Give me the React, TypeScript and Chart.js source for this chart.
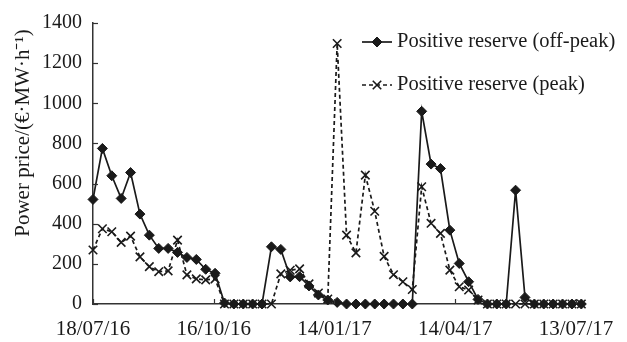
import React, { useEffect, useRef } from "react";
import { Chart, registerables } from "chart.js";

Chart.register(...registerables);

// Weekly observations starting 18/07/16 (x = days since start)
const dayStep = 7;
const tickDays = [0, 90, 180, 270, 360];
const tickLabels = ["18/07/16", "16/10/16", "14/01/17", "14/04/17", "13/07/17"];
const yTicks = [0, 200, 400, 600, 800, 1000, 1200, 1400];

const offPeakLabel = "Positive reserve (off-peak)";
const peakLabel = "Positive reserve (peak)";
const yTitle = "Power price/(€·MW·h⁻¹)";

const offPeak = [
  521, 775, 639, 526, 655, 448, 343, 277, 277, 257, 232, 222, 173, 153, 5,
  0, 0, 0, 0,
  285, 272, 135, 136, 90, 45, 20, 8,
  0, 0, 0, 0, 0, 0, 0, 0,
  960, 697, 675, 368, 202, 111, 23,
  0, 0, 0,
  567, 33,
  0, 0, 0, 0, 0, 0,
];

const peak = [
  269, 375, 360, 307, 338, 235, 186, 161, 165, 318, 145, 125, 120, 125,
  0, 0, 0, 0, 0, 0,
  150, 168, 175, 100, 55, 25,
  1298,
  343, 255, 642, 462, 237, 146, 111, 72,
  584, 402, 352, 169, 86, 70, 20,
  0, 0, 0, 0, 0, 0, 0, 0, 0, 0, 0,
];

const FONT = "'Liberation Serif', 'Times New Roman', serif";
const INK = "#1a1a1a";

const innerTicks = {
  id: "innerTicks",
  afterDatasetsDraw(chart: any) {
    const { ctx, chartArea, scales } = chart;
    const { left, bottom } = chartArea;
    ctx.save();
    ctx.strokeStyle = "#333";
    ctx.lineWidth = 1.2;
    scales.y.ticks.forEach((t: any) => {
      const py = Math.round(scales.y.getPixelForValue(t.value)) + 0.5;
      ctx.beginPath();
      ctx.moveTo(left, py);
      ctx.lineTo(left + 5, py);
      ctx.stroke();
    });
    scales.x.ticks.forEach((t: any) => {
      const px = Math.round(scales.x.getPixelForValue(t.value)) + 0.5;
      ctx.beginPath();
      ctx.moveTo(px, bottom);
      ctx.lineTo(px, bottom - 5);
      ctx.stroke();
    });
    ctx.restore();
  },
};

function drawMarker(ctx: CanvasRenderingContext2D, style: string, x: number, y: number, r: number) {
  ctx.beginPath();
  if (style === "rectRot") {
    ctx.moveTo(x, y - r);
    ctx.lineTo(x + r, y);
    ctx.lineTo(x, y + r);
    ctx.lineTo(x - r, y);
    ctx.closePath();
    ctx.fill();
    ctx.stroke();
  } else {
    const d = r * Math.SQRT1_2;
    ctx.moveTo(x - d, y - d);
    ctx.lineTo(x + d, y + d);
    ctx.moveTo(x + d, y - d);
    ctx.lineTo(x - d, y + d);
    ctx.stroke();
  }
}

const innerLegend = {
  id: "innerLegend",
  afterDraw(chart: any, _args: any, opts: any) {
    const { ctx } = chart;
    ctx.save();
    chart.data.datasets.forEach((ds: any, i: number) => {
      const y = opts.rows[i];
      const mx = opts.markerX;
      ctx.strokeStyle = ds.borderColor;
      ctx.fillStyle = ds.backgroundColor;
      ctx.lineWidth = ds.borderWidth;
      ctx.setLineDash(ds.borderDash || []);
      ctx.beginPath();
      ctx.moveTo(mx - opts.half, y);
      ctx.lineTo(mx + opts.half, y);
      ctx.stroke();
      ctx.setLineDash([]);
      ctx.lineWidth = ds.pointBorderWidth;
      drawMarker(ctx, ds.pointStyle, mx, y, ds.pointRadius);
      ctx.fillStyle = INK;
      ctx.font = `${opts.size}px ${FONT}`;
      ctx.textAlign = "left";
      ctx.textBaseline = "middle";
      ctx.fillText(ds.label, opts.textX, y);
    });
    ctx.restore();
  },
};

const sideTitle = {
  id: "sideTitle",
  afterDraw(chart: any, _args: any, opts: any) {
    const { ctx } = chart;
    ctx.save();
    ctx.translate(opts.x, opts.y);
    ctx.rotate(-Math.PI / 2);
    ctx.fillStyle = INK;
    ctx.font = `${opts.size}px ${FONT}`;
    ctx.textAlign = "center";
    ctx.textBaseline = "middle";
    ctx.fillText(opts.text, 0, 0);
    ctx.restore();
  },
};

export default function App() {
  const ref = useRef<HTMLCanvasElement | null>(null);

  useEffect(() => {
    document.body.style.margin = "0";
    const canvas = ref.current;
    if (!canvas) return;
    const chart = new Chart(canvas, {
      type: "line",
      data: {
        datasets: [
          {
            label: offPeakLabel,
            data: offPeak.map((v, i) => ({ x: i * dayStep, y: v })),
            borderColor: INK,
            backgroundColor: INK,
            borderWidth: 1.7,
            pointStyle: "rectRot",
            pointRadius: 5,
            pointBorderWidth: 1,
            tension: 0,
            clip: false,
          },
          {
            label: peakLabel,
            data: peak.map((v, i) => ({ x: i * dayStep, y: v })),
            borderColor: INK,
            backgroundColor: INK,
            borderWidth: 1.7,
            borderDash: [4, 3],
            pointStyle: "crossRot",
            pointRadius: 6,
            pointBorderWidth: 1.6,
            tension: 0,
            clip: false,
          },
        ] as any,
      },
      options: {
        animation: false,
        responsive: false,
        maintainAspectRatio: false,
        layout: { padding: { top: 22, right: 37, left: 0, bottom: 0 } },
        plugins: {
          legend: { display: false },
          tooltip: { enabled: false },
          innerLegend: { rows: [42, 85], markerX: 377, half: 15, textX: 397, size: 20.5 },
          sideTitle: { text: yTitle, x: 23, y: 133, size: 21 },
        } as any,
        scales: {
          x: {
            type: "linear",
            min: 0,
            max: 367,
            grid: { display: false, drawTicks: false },
            border: { display: true, color: "#333", width: 1.5 },
            afterBuildTicks: (s: any) => {
              s.ticks = tickDays.map((v) => ({ value: v }));
            },
            afterFit: (s: any) => {
              s.height = 38;
            },
            ticks: {
              autoSkip: false,
              maxRotation: 0,
              padding: 13,
              color: INK,
              font: { family: FONT, size: 21 },
              callback: (v: any) => {
                const k = tickDays.indexOf(Number(v));
                return k >= 0 ? tickLabels[k] : "";
              },
            },
          },
          y: {
            min: 0,
            max: 1400,
            grid: { display: false, drawTicks: false },
            border: { display: true, color: "#333", width: 1.5 },
            afterBuildTicks: (s: any) => {
              s.ticks = yTicks.map((v) => ({ value: v }));
            },
            afterFit: (s: any) => {
              s.width = 93;
            },
            ticks: {
              padding: 11,
              color: INK,
              font: { family: FONT, size: 20 },
              callback: (v: any) => String(v),
            },
          },
        } as any,
      },
      plugins: [innerTicks, innerLegend, sideTitle],
    });
    return () => chart.destroy();
  }, []);

  return <canvas ref={ref} width={627} height={342} style={{ display: "block" }} />;
}
